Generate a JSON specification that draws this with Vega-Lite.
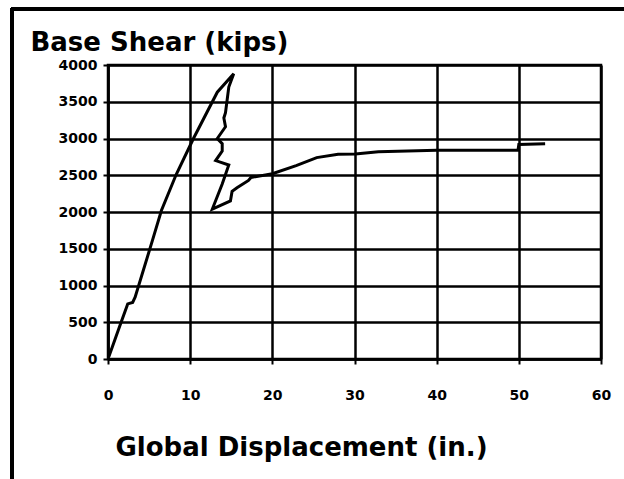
{
  "$schema": "https://vega.github.io/schema/vega-lite/v6.json",
  "autosize": {"type": "none"},
  "padding": {"left": 108, "top": 65, "right": 23, "bottom": 120},
  "width": 493,
  "height": 294,
  "background": "white",
  "config": {
    "view": {"stroke": "black", "strokeWidth": 2.5},
    "axis": {
      "gridColor": "black", "gridWidth": 2.5, "gridOpacity": 1,
      "domainColor": "black", "domainWidth": 2.5,
      "tickColor": "black", "tickWidth": 2, "tickSize": 5,
      "labelOverlap": false, "labelFlush": false,
      "labelFont": "DejaVu Sans", "labelFontWeight": "bold", "labelFontSize": 14, "labelColor": "black",
      "titleFont": "DejaVu Sans", "titleFontWeight": "bold", "titleFontSize": 26, "titleColor": "black"
    }
  },
  "resolve": {"axis": {"x": "independent", "y": "independent"}},
  "data": {"values": [
    {"i": 1, "disp": 0.1, "shear": 30},
    {"i": 2, "disp": 1.4, "shear": 440},
    {"i": 3, "disp": 2.4, "shear": 750},
    {"i": 4, "disp": 3.0, "shear": 770},
    {"i": 5, "disp": 3.3, "shear": 840},
    {"i": 6, "disp": 5.4, "shear": 1610},
    {"i": 7, "disp": 6.5, "shear": 2020},
    {"i": 8, "disp": 8.3, "shear": 2510},
    {"i": 9, "disp": 10.4, "shear": 3000},
    {"i": 10, "disp": 13.3, "shear": 3630},
    {"i": 11, "disp": 15.3, "shear": 3880},
    {"i": 12, "disp": 14.7, "shear": 3700},
    {"i": 13, "disp": 14.3, "shear": 3350},
    {"i": 14, "disp": 14.1, "shear": 3280},
    {"i": 15, "disp": 14.3, "shear": 3160},
    {"i": 16, "disp": 13.3, "shear": 3000},
    {"i": 17, "disp": 13.9, "shear": 2930},
    {"i": 18, "disp": 13.9, "shear": 2830},
    {"i": 19, "disp": 13.1, "shear": 2700},
    {"i": 20, "disp": 14.7, "shear": 2640},
    {"i": 21, "disp": 13.9, "shear": 2380},
    {"i": 22, "disp": 12.7, "shear": 2040},
    {"i": 23, "disp": 14.9, "shear": 2150},
    {"i": 24, "disp": 15.1, "shear": 2280},
    {"i": 25, "disp": 15.7, "shear": 2330},
    {"i": 26, "disp": 17.1, "shear": 2430},
    {"i": 27, "disp": 17.4, "shear": 2470},
    {"i": 28, "disp": 20.0, "shear": 2520},
    {"i": 29, "disp": 22.9, "shear": 2630},
    {"i": 30, "disp": 25.4, "shear": 2740},
    {"i": 31, "disp": 28.0, "shear": 2785},
    {"i": 32, "disp": 30.1, "shear": 2790},
    {"i": 33, "disp": 32.9, "shear": 2820},
    {"i": 34, "disp": 40.0, "shear": 2840},
    {"i": 35, "disp": 49.9, "shear": 2840},
    {"i": 36, "disp": 50.0, "shear": 2920},
    {"i": 37, "disp": 53.2, "shear": 2930}
  ]},
  "layer": [
    {
      "mark": {"type": "line", "color": "black", "strokeWidth": 3},
      "encoding": {
        "x": {"field": "disp", "type": "quantitative",
          "scale": {"domain": [0, 60], "nice": false},
          "axis": {"values": [0, 10, 20, 30, 40, 50, 60], "format": "d", "labelPadding": 24,
            "title": "Global Displacement (in.)", "titleX": 193, "titleY": 96,
            "titleAlign": "center", "titleBaseline": "alphabetic"}},
        "y": {"field": "shear", "type": "quantitative",
          "scale": {"domain": [0, 4000], "nice": false},
          "axis": {"values": [0, 500, 1000, 1500, 2000, 2500, 3000, 3500, 4000], "format": "d",
            "labelPadding": 6, "labelDy": 6,
            "title": "Base Shear (kips)", "titleAngle": 0, "titleX": -78, "titleY": -15,
            "titleAlign": "left", "titleBaseline": "alphabetic"}},
        "order": {"field": "i", "type": "quantitative"}
      }
    },
    {
      "mark": {"type": "rule", "color": "black", "strokeWidth": 3, "clip": false},
      "encoding": {
        "x": {"datum": -11.7, "type": "quantitative", "axis": null},
        "y": {"datum": -2000, "type": "quantitative", "axis": null},
        "y2": {"datum": 4765}
      }
    },
    {
      "mark": {"type": "rule", "color": "black", "strokeWidth": 3, "clip": false},
      "encoding": {
        "y": {"datum": 4765, "type": "quantitative", "axis": null},
        "x": {"datum": -11.7, "type": "quantitative", "axis": null},
        "x2": {"datum": 63}
      }
    }
  ]
}
